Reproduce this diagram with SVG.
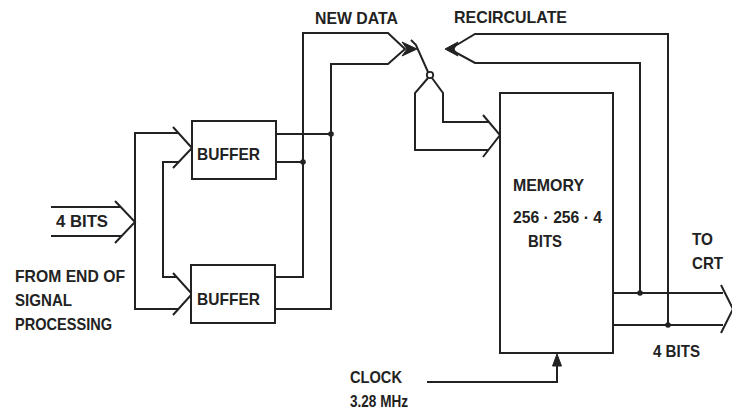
<svg xmlns="http://www.w3.org/2000/svg" width="732" height="411" viewBox="0 0 732 411">
<style>
.ln{fill:none;stroke:#222;stroke-width:2;stroke-linejoin:miter}
.box{fill:#fff;stroke:#222;stroke-width:2}
.dot{fill:#222;stroke:none}
.ah{fill:#222;stroke:#222;stroke-width:1}
text{font-family:"Liberation Sans",Arial,sans-serif;font-weight:bold;font-size:16.5px;fill:#222}
</style>
<rect width="732" height="411" fill="#fff"/>
<g id="connectors">
<!-- input bus -->
<path class="ln" d="M51,207 H121 M51,236 H121 M115,201 L135,222 L115,243"/>
<!-- distribution to buffers -->
<path class="ln" d="M178,133 H135 V309 H178"/>
<path class="ln" d="M178,162 H163 V277 H177"/>
<path class="ln" d="M173,127 L192,148 L173,168"/>
<path class="ln" d="M173,273 L192,294 L173,315"/>
<!-- buffer outputs -->
<path class="ln" d="M276,134 H331 M276,162 H303"/>
<path class="ln" d="M275,277 H303 V33 H388 L405,49 L388,64 H331 V309 H275"/>
<circle class="dot" cx="331" cy="134" r="2.8"/>
<circle class="dot" cx="303" cy="162" r="2.8"/>
<!-- new data arrowhead -->
<polygon class="ah" points="402,42 417,49 402,56 407,49"/>
<!-- switch -->
<path class="ln" d="M411,40 L416,45 L428,72"/>
<circle cx="430" cy="75" r="3.2" fill="#fff" stroke="#222" stroke-width="1.8"/>
<path class="ln" d="M428,78 L415,93 V150 H488 M432,78 L443,93 V122 H489"/>
<path class="ln" d="M483,115 L500,135 L483,157"/>
<!-- recirculate -->
<polygon class="ah" points="445,49 458,42 454,49 458,56"/>
<path class="ln" d="M455,46 L475,34 H668 V325 M455,52 L475,63 H640 V293"/>
<!-- outputs -->
<path class="ln" d="M613,293 H723 M613,325 H723 M721,285 L733,309 L721,333"/>
<circle class="dot" cx="640" cy="293" r="2.8"/>
<circle class="dot" cx="668" cy="325" r="2.8"/>
<!-- clock -->
<path class="ln" d="M427,382 H557 V365"/>
<polygon class="ah" points="557,354 561.5,366 552.5,366"/>
</g>
<g id="buffer1">
<rect class="box" x="192" y="121" width="84" height="58"/>
<text x="197" y="160" textLength="63" lengthAdjust="spacingAndGlyphs">BUFFER</text>
</g>
<g id="buffer2">
<rect class="box" x="191" y="265" width="84" height="58"/>
<text x="197" y="305" textLength="63" lengthAdjust="spacingAndGlyphs">BUFFER</text>
</g>
<g id="memory">
<rect class="box" x="500" y="93" width="113" height="260"/>
<text x="513" y="191" textLength="71" lengthAdjust="spacingAndGlyphs">MEMORY</text>
<text x="513" y="223" textLength="89" lengthAdjust="spacingAndGlyphs">256 · 256 · 4</text>
<text x="528" y="247" textLength="34" lengthAdjust="spacingAndGlyphs">BITS</text>
</g>
<g id="labels">
<text x="315" y="24" textLength="83" lengthAdjust="spacingAndGlyphs">NEW DATA</text>
<text x="454" y="23" textLength="113" lengthAdjust="spacingAndGlyphs">RECIRCULATE</text>
<text x="56" y="227" textLength="52" lengthAdjust="spacingAndGlyphs">4 BITS</text>
<text x="15" y="282" textLength="110" lengthAdjust="spacingAndGlyphs">FROM END OF</text>
<text x="15" y="306" textLength="57" lengthAdjust="spacingAndGlyphs">SIGNAL</text>
<text x="15" y="330" textLength="97" lengthAdjust="spacingAndGlyphs">PROCESSING</text>
<text x="692" y="245" textLength="21" lengthAdjust="spacingAndGlyphs">TO</text>
<text x="692" y="269" textLength="31" lengthAdjust="spacingAndGlyphs">CRT</text>
<text x="653" y="357" textLength="47" lengthAdjust="spacingAndGlyphs">4 BITS</text>
<text x="350" y="383" textLength="52" lengthAdjust="spacingAndGlyphs">CLOCK</text>
<text x="350" y="407" textLength="58" lengthAdjust="spacingAndGlyphs">3.28 MHz</text>
</g>
</svg>
